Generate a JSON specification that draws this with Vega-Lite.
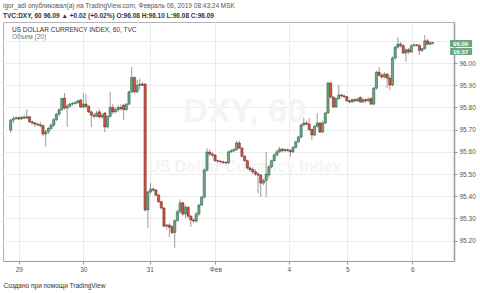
{
 "$schema": "https://vega.github.io/schema/vega-lite/v6.json",
 "width": 451, "height": 239,
 "autosize": {"type": "none"},
 "padding": {"left": 3, "top": 22, "right": 26, "bottom": 32},
 "background": "white",
 "config": {"font": "Liberation Sans", "view": {"stroke": "#b4b4b4", "strokeWidth": 1}},
 "title": {"text": "igor_adl опубликовал(а) на TradingView.com, Февраль 06, 2019 08:43:24 MSK", "subtitle": "TVC:DXY, 60  96.09 ▲ +0.02 (+0.02%)  O:96.08  H:96.10  L:96.08  C:96.09", "anchor": "start", "frame": "group", "fontSize": 6.5, "fontWeight": "normal", "color": "#555555", "subtitleFontSize": 6.5, "subtitleFontWeight": "bold", "subtitleColor": "#333333", "subtitlePadding": 3, "offset": 3},
 "datasets": {"candles": [
  {"t":1,"o":95.698,"h":95.748,"l":95.685,"c":95.743},
  {"t":2,"o":95.743,"h":95.760,"l":95.730,"c":95.750},
  {"t":3,"o":95.750,"h":95.760,"l":95.744,"c":95.754},
  {"t":4,"o":95.754,"h":95.758,"l":95.742,"c":95.748},
  {"t":5,"o":95.748,"h":95.762,"l":95.744,"c":95.756},
  {"t":6,"o":95.756,"h":95.768,"l":95.748,"c":95.752},
  {"t":7,"o":95.752,"h":95.792,"l":95.748,"c":95.758},
  {"t":8,"o":95.758,"h":95.762,"l":95.730,"c":95.735},
  {"t":9,"o":95.735,"h":95.740,"l":95.722,"c":95.730},
  {"t":10,"o":95.730,"h":95.735,"l":95.712,"c":95.725},
  {"t":11,"o":95.725,"h":95.730,"l":95.715,"c":95.722},
  {"t":12,"o":95.722,"h":95.735,"l":95.710,"c":95.718},
  {"t":13,"o":95.718,"h":95.722,"l":95.672,"c":95.680},
  {"t":14,"o":95.680,"h":95.700,"l":95.625,"c":95.690},
  {"t":15,"o":95.690,"h":95.712,"l":95.680,"c":95.705},
  {"t":16,"o":95.705,"h":95.728,"l":95.698,"c":95.720},
  {"t":17,"o":95.720,"h":95.752,"l":95.712,"c":95.745},
  {"t":18,"o":95.745,"h":95.775,"l":95.738,"c":95.770},
  {"t":19,"o":95.770,"h":95.795,"l":95.760,"c":95.790},
  {"t":20,"o":95.790,"h":95.845,"l":95.785,"c":95.840},
  {"t":21,"o":95.842,"h":95.865,"l":95.790,"c":95.797},
  {"t":22,"o":95.797,"h":95.815,"l":95.712,"c":95.805},
  {"t":23,"o":95.805,"h":95.820,"l":95.800,"c":95.815},
  {"t":24,"o":95.815,"h":95.825,"l":95.808,"c":95.818},
  {"t":25,"o":95.818,"h":95.830,"l":95.812,"c":95.822},
  {"t":26,"o":95.822,"h":95.835,"l":95.815,"c":95.830},
  {"t":27,"o":95.833,"h":95.838,"l":95.798,"c":95.802},
  {"t":28,"o":95.802,"h":95.865,"l":95.795,"c":95.815},
  {"t":29,"o":95.815,"h":95.860,"l":95.795,"c":95.805},
  {"t":30,"o":95.805,"h":95.810,"l":95.775,"c":95.780},
  {"t":31,"o":95.780,"h":95.785,"l":95.712,"c":95.765},
  {"t":32,"o":95.765,"h":95.775,"l":95.750,"c":95.760},
  {"t":33,"o":95.760,"h":95.785,"l":95.755,"c":95.775},
  {"t":34,"o":95.780,"h":95.792,"l":95.752,"c":95.757},
  {"t":35,"o":95.757,"h":95.775,"l":95.750,"c":95.765},
  {"t":36,"o":95.775,"h":95.778,"l":95.689,"c":95.712},
  {"t":37,"o":95.712,"h":95.765,"l":95.705,"c":95.760},
  {"t":38,"o":95.760,"h":95.870,"l":95.755,"c":95.800},
  {"t":39,"o":95.800,"h":95.815,"l":95.770,"c":95.780},
  {"t":40,"o":95.780,"h":95.800,"l":95.775,"c":95.790},
  {"t":41,"o":95.790,"h":95.810,"l":95.780,"c":95.800},
  {"t":42,"o":95.800,"h":95.815,"l":95.785,"c":95.795},
  {"t":43,"o":95.810,"h":95.815,"l":95.743,"c":95.790},
  {"t":44,"o":95.790,"h":95.820,"l":95.785,"c":95.815},
  {"t":45,"o":95.815,"h":95.875,"l":95.810,"c":95.870},
  {"t":46,"o":95.870,"h":95.982,"l":95.865,"c":95.935},
  {"t":47,"o":95.935,"h":95.940,"l":95.862,"c":95.870},
  {"t":48,"o":95.870,"h":95.925,"l":95.865,"c":95.900},
  {"t":49,"o":95.900,"h":95.930,"l":95.880,"c":95.905},
  {"t":50,"o":95.905,"h":95.915,"l":95.895,"c":95.900},
  {"t":51,"o":95.905,"h":95.910,"l":95.330,"c":95.338},
  {"t":52,"o":95.338,"h":95.425,"l":95.257,"c":95.419},
  {"t":53,"o":95.419,"h":95.460,"l":95.410,"c":95.432},
  {"t":54,"o":95.432,"h":95.440,"l":95.420,"c":95.428},
  {"t":55,"o":95.428,"h":95.432,"l":95.400,"c":95.405},
  {"t":56,"o":95.405,"h":95.410,"l":95.370,"c":95.375},
  {"t":57,"o":95.375,"h":95.380,"l":95.340,"c":95.347},
  {"t":58,"o":95.347,"h":95.350,"l":95.260,"c":95.265},
  {"t":59,"o":95.265,"h":95.275,"l":95.250,"c":95.270},
  {"t":60,"o":95.270,"h":95.278,"l":95.216,"c":95.260},
  {"t":61,"o":95.262,"h":95.270,"l":95.230,"c":95.236},
  {"t":62,"o":95.236,"h":95.295,"l":95.167,"c":95.290},
  {"t":63,"o":95.290,"h":95.340,"l":95.285,"c":95.330},
  {"t":64,"o":95.330,"h":95.385,"l":95.320,"c":95.370},
  {"t":65,"o":95.370,"h":95.375,"l":95.310,"c":95.320},
  {"t":66,"o":95.320,"h":95.360,"l":95.300,"c":95.350},
  {"t":67,"o":95.350,"h":95.355,"l":95.300,"c":95.310},
  {"t":68,"o":95.310,"h":95.315,"l":95.261,"c":95.293},
  {"t":69,"o":95.293,"h":95.300,"l":95.280,"c":95.288},
  {"t":70,"o":95.288,"h":95.330,"l":95.282,"c":95.320},
  {"t":71,"o":95.320,"h":95.365,"l":95.310,"c":95.360},
  {"t":72,"o":95.360,"h":95.400,"l":95.355,"c":95.396},
  {"t":73,"o":95.396,"h":95.525,"l":95.390,"c":95.518},
  {"t":74,"o":95.518,"h":95.617,"l":95.510,"c":95.599},
  {"t":75,"o":95.599,"h":95.610,"l":95.580,"c":95.590},
  {"t":76,"o":95.590,"h":95.600,"l":95.578,"c":95.585},
  {"t":77,"o":95.585,"h":95.590,"l":95.555,"c":95.560},
  {"t":78,"o":95.560,"h":95.565,"l":95.550,"c":95.558},
  {"t":79,"o":95.558,"h":95.562,"l":95.548,"c":95.555},
  {"t":80,"o":95.555,"h":95.560,"l":95.545,"c":95.552},
  {"t":81,"o":95.552,"h":95.558,"l":95.545,"c":95.550},
  {"t":82,"o":95.550,"h":95.605,"l":95.545,"c":95.600},
  {"t":83,"o":95.600,"h":95.612,"l":95.595,"c":95.605},
  {"t":84,"o":95.605,"h":95.618,"l":95.598,"c":95.610},
  {"t":85,"o":95.610,"h":95.650,"l":95.605,"c":95.640},
  {"t":86,"o":95.640,"h":95.650,"l":95.612,"c":95.617},
  {"t":87,"o":95.617,"h":95.620,"l":95.575,"c":95.580},
  {"t":88,"o":95.580,"h":95.585,"l":95.555,"c":95.560},
  {"t":89,"o":95.560,"h":95.565,"l":95.520,"c":95.527},
  {"t":90,"o":95.527,"h":95.535,"l":95.510,"c":95.520},
  {"t":91,"o":95.520,"h":95.530,"l":95.500,"c":95.510},
  {"t":92,"o":95.510,"h":95.520,"l":95.490,"c":95.500},
  {"t":93,"o":95.500,"h":95.510,"l":95.414,"c":95.495},
  {"t":94,"o":95.495,"h":95.500,"l":95.396,"c":95.459},
  {"t":95,"o":95.459,"h":95.480,"l":95.450,"c":95.470},
  {"t":96,"o":95.470,"h":95.600,"l":95.396,"c":95.500},
  {"t":97,"o":95.495,"h":95.540,"l":95.480,"c":95.532},
  {"t":98,"o":95.532,"h":95.565,"l":95.525,"c":95.560},
  {"t":99,"o":95.560,"h":95.592,"l":95.555,"c":95.586},
  {"t":100,"o":95.586,"h":95.610,"l":95.578,"c":95.600},
  {"t":101,"o":95.600,"h":95.622,"l":95.595,"c":95.612},
  {"t":102,"o":95.612,"h":95.618,"l":95.598,"c":95.605},
  {"t":103,"o":95.605,"h":95.615,"l":95.600,"c":95.610},
  {"t":104,"o":95.610,"h":95.614,"l":95.600,"c":95.606},
  {"t":105,"o":95.606,"h":95.612,"l":95.577,"c":95.600},
  {"t":106,"o":95.600,"h":95.625,"l":95.595,"c":95.620},
  {"t":107,"o":95.620,"h":95.650,"l":95.615,"c":95.645},
  {"t":108,"o":95.645,"h":95.672,"l":95.640,"c":95.667},
  {"t":109,"o":95.667,"h":95.726,"l":95.660,"c":95.721},
  {"t":110,"o":95.721,"h":95.752,"l":95.715,"c":95.730},
  {"t":111,"o":95.730,"h":95.740,"l":95.718,"c":95.725},
  {"t":112,"o":95.725,"h":95.752,"l":95.695,"c":95.700},
  {"t":113,"o":95.700,"h":95.705,"l":95.653,"c":95.676},
  {"t":114,"o":95.676,"h":95.720,"l":95.670,"c":95.715},
  {"t":115,"o":95.715,"h":95.775,"l":95.710,"c":95.730},
  {"t":116,"o":95.730,"h":95.735,"l":95.685,"c":95.689},
  {"t":117,"o":95.689,"h":95.740,"l":95.685,"c":95.730},
  {"t":118,"o":95.730,"h":95.780,"l":95.725,"c":95.775},
  {"t":119,"o":95.775,"h":95.915,"l":95.770,"c":95.910},
  {"t":120,"o":95.910,"h":95.915,"l":95.840,"c":95.847},
  {"t":121,"o":95.847,"h":95.850,"l":95.798,"c":95.802},
  {"t":122,"o":95.802,"h":95.845,"l":95.798,"c":95.840},
  {"t":123,"o":95.840,"h":95.901,"l":95.835,"c":95.856},
  {"t":124,"o":95.856,"h":95.862,"l":95.845,"c":95.852},
  {"t":125,"o":95.852,"h":95.858,"l":95.842,"c":95.848},
  {"t":126,"o":95.848,"h":95.852,"l":95.825,"c":95.830},
  {"t":127,"o":95.830,"h":95.835,"l":95.818,"c":95.825},
  {"t":128,"o":95.825,"h":95.840,"l":95.820,"c":95.835},
  {"t":129,"o":95.835,"h":95.840,"l":95.824,"c":95.830},
  {"t":130,"o":95.830,"h":95.845,"l":95.825,"c":95.838},
  {"t":131,"o":95.845,"h":95.850,"l":95.820,"c":95.825},
  {"t":132,"o":95.825,"h":95.842,"l":95.820,"c":95.835},
  {"t":133,"o":95.835,"h":95.840,"l":95.822,"c":95.830},
  {"t":134,"o":95.830,"h":95.845,"l":95.825,"c":95.838},
  {"t":135,"o":95.840,"h":95.845,"l":95.810,"c":95.815},
  {"t":136,"o":95.815,"h":95.892,"l":95.810,"c":95.887},
  {"t":137,"o":95.887,"h":95.965,"l":95.880,"c":95.959},
  {"t":138,"o":95.959,"h":95.982,"l":95.940,"c":95.945},
  {"t":139,"o":95.945,"h":95.955,"l":95.930,"c":95.937},
  {"t":140,"o":95.937,"h":95.958,"l":95.930,"c":95.950},
  {"t":141,"o":95.950,"h":95.955,"l":95.887,"c":95.932},
  {"t":142,"o":95.932,"h":95.946,"l":95.878,"c":95.901},
  {"t":143,"o":95.901,"h":96.030,"l":95.895,"c":96.023},
  {"t":144,"o":96.023,"h":96.078,"l":96.015,"c":96.072},
  {"t":145,"o":96.072,"h":96.117,"l":96.065,"c":96.085},
  {"t":146,"o":96.085,"h":96.095,"l":96.070,"c":96.078},
  {"t":147,"o":96.078,"h":96.085,"l":96.040,"c":96.045},
  {"t":148,"o":96.045,"h":96.065,"l":96.005,"c":96.060},
  {"t":149,"o":96.060,"h":96.068,"l":96.040,"c":96.050},
  {"t":150,"o":96.050,"h":96.085,"l":96.045,"c":96.078},
  {"t":151,"o":96.078,"h":96.088,"l":96.074,"c":96.082},
  {"t":152,"o":96.082,"h":96.086,"l":96.075,"c":96.080},
  {"t":153,"o":96.080,"h":96.085,"l":96.036,"c":96.057},
  {"t":154,"o":96.057,"h":96.070,"l":96.050,"c":96.065},
  {"t":155,"o":96.065,"h":96.126,"l":96.060,"c":96.100},
  {"t":156,"o":96.100,"h":96.110,"l":96.080,"c":96.085},
  {"t":157,"o":96.085,"h":96.098,"l":96.080,"c":96.092},
  {"t":158,"o":96.092,"h":96.095,"l":96.083,"c":96.090}
 ],
 "labels": [
  {"txt": "US DOLLAR CURRENCY INDEX, 60, TVC", "at": 1.5, "p": 96.149, "kind": "name"},
  {"txt": "Объем (20)", "at": 1.5, "p": 96.117, "kind": "vol"}
 ],
 "watermark": [
  {"txt": "DXY, 60", "at": 88, "p": 95.78, "kind": "big"},
  {"txt": "US Dollar Currency Index", "at": 88, "p": 95.53, "kind": "small"}
 ],
 "boxes": [
  {"lab": "96.09", "a": 164.4, "b": 172.6, "top": 96.104, "bot": 96.072, "mid": 96.088},
  {"lab": "16:37", "a": 164.4, "b": 172.6, "top": 96.068, "bot": 96.036, "mid": 96.052}
 ]},
 "encoding": {
  "x": {"field": "t", "type": "quantitative", "scale": {"domain": [0, 164], "nice": false, "zero": false},
   "axis": {"values": [4, 28, 52.7, 77.1, 104.4, 126.2, 150.4], "labelOverlap": false,
    "labelExpr": "datum.value < 5 ? '29' : datum.value < 30 ? '30' : datum.value < 60 ? '31' : datum.value < 80 ? 'Фев' : datum.value < 110 ? '4' : datum.value < 130 ? '5' : '6'",
    "title": "Создано при помощи TradingView", "titleAnchor": "start", "titleAlign": "left", "titleX": 0, "titleY": 24, "titleBaseline": "middle", "titleFontSize": 6.5, "titleFontWeight": "normal", "titleColor": "#333333",
    "labelFontSize": 6.5, "labelColor": "#555555", "labelPadding": 2, "tickSize": 3, "tickColor": "#999999", "domainColor": "#999999", "gridColor": "#ececec"}},
  "y": {"field": "l", "type": "quantitative", "scale": {"domain": [95.108, 96.185], "nice": false, "zero": false},
   "axis": {"orient": "right", "values": [95.2, 95.3, 95.4, 95.5, 95.6, 95.7, 95.8, 95.9, 96.0, 96.1], "labelOverlap": false,
    "labelExpr": "datum.value > 96.05 ? '' : format(datum.value, '.2f')", "title": null,
    "labelFontSize": 6.5, "labelColor": "#555555", "labelPadding": 2, "tickSize": 3, "tickColor": "#999999", "domainColor": "#999999", "domainWidth": 1.5, "gridColor": "#ececec"}}
 },
 "layer": [
  {"data": {"name": "watermark"},
   "mark": {"type": "text", "color": "#f4f4f4", "fontWeight": "bold", "align": "center", "baseline": "middle"},
   "encoding": {
    "x": {"field": "at", "type": "quantitative"},
    "y": {"field": "p", "type": "quantitative"},
    "text": {"field": "txt"},
    "size": {"field": "kind", "type": "nominal", "scale": {"domain": ["big", "small"], "range": [34, 16]}, "legend": null}}},
  {"data": {"name": "candles"},
   "mark": {"type": "rule", "color": "#737375", "strokeWidth": 0.7},
   "encoding": {"y2": {"field": "h"}}},
  {"data": {"name": "candles"},
   "mark": {"type": "bar", "size": 2.2, "strokeWidth": 0.5},
   "encoding": {
    "y": {"field": "o", "type": "quantitative"},
    "y2": {"field": "c"},
    "color": {"condition": {"test": "datum.c >= datum.o", "value": "#6ba583"}, "value": "#d75442"},
    "stroke": {"condition": {"test": "datum.c >= datum.o", "value": "#225437"}, "value": "#5b1a13"}}},
  {"data": {"name": "labels"},
   "mark": {"type": "text", "fontSize": 6.5, "align": "left", "baseline": "middle"},
   "encoding": {
    "x": {"field": "at", "type": "quantitative"},
    "y": {"field": "p", "type": "quantitative"},
    "text": {"field": "txt"},
    "color": {"field": "kind", "type": "nominal", "scale": {"domain": ["name", "vol"], "range": ["#333333", "#777777"]}, "legend": null}}},
  {"data": {"name": "boxes"},
   "mark": {"type": "rect", "color": "#6ba583"},
   "encoding": {
    "x": {"field": "a", "type": "quantitative"},
    "x2": {"field": "b"},
    "y": {"field": "top", "type": "quantitative"},
    "y2": {"field": "bot"}}},
  {"data": {"name": "boxes"},
   "mark": {"type": "text", "color": "white", "fontSize": 6, "fontWeight": "bold", "align": "center", "baseline": "middle", "dx": 10.5},
   "encoding": {
    "x": {"field": "a", "type": "quantitative"},
    "y": {"field": "mid", "type": "quantitative"},
    "text": {"field": "lab"}}}
 ]
}
